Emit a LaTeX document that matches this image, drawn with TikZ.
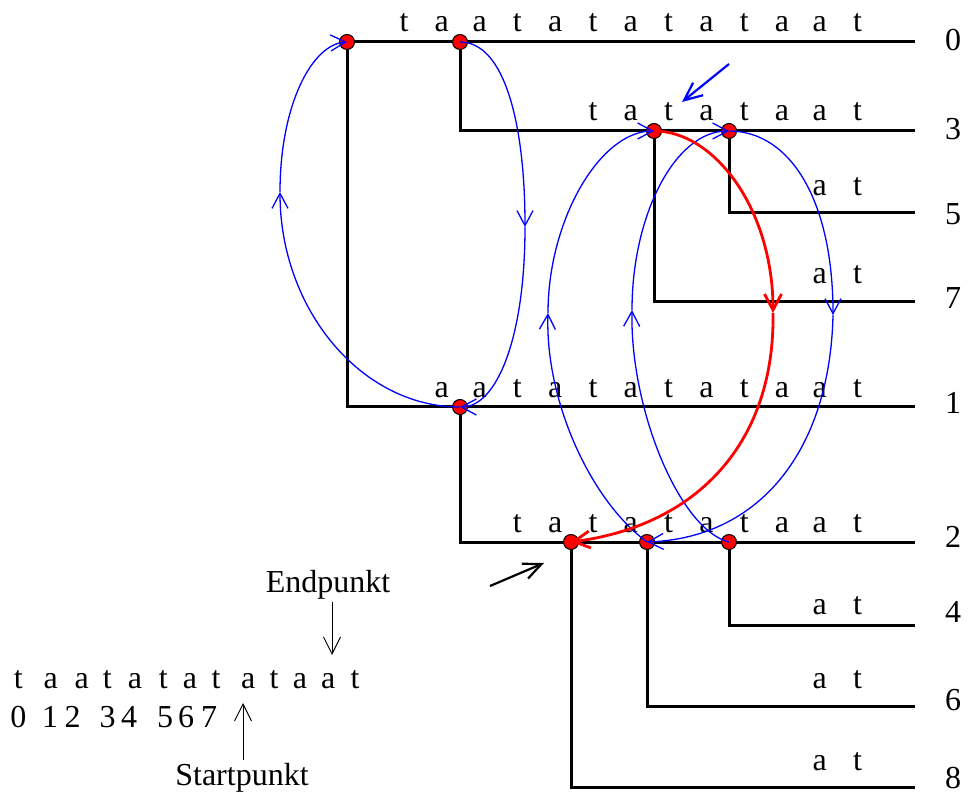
\documentclass[tikz,border=0pt]{standalone}
\usepackage{fontspec}
\setmainfont{Liberation Serif}
\usetikzlibrary{arrows.meta}
\begin{document}
\begin{tikzpicture}[x=0.5pt,y=-0.5pt,
  every node/.style={font=\fontsize{16}{19}\selectfont, inner sep=0pt},
  letter/.style={anchor=base},
  lbl/.style={anchor=center},
  tree/.style={line width=1.5pt, black},
  dot/.style={circle, fill=red, draw=black, line width=0.5pt, minimum size=7.5pt, inner sep=0pt},
  link/.style={blue, line width=0.65pt, -{Straight Barb[length=7.5pt,width=8pt]}},
  redlink/.style={red, line width=1.4pt, -{Straight Barb[length=8pt,width=8.5pt]}},
  bigarrow/.style={line width=1.1pt, -{Straight Barb[length=9pt,width=8pt]}},
  ptr/.style={line width=0.5pt, -{Straight Barb[length=8.5pt,width=8.5pt]}}
]
\useasboundingbox (0,0) rectangle (968,801);

% positions of branching points
\coordinate (p0a) at (347,42);
\coordinate (p0b) at (460,42);
\coordinate (p3a) at (654,131);
\coordinate (p3b) at (729,131);
\coordinate (p1a) at (460,407);
\coordinate (p2a) at (571,542);
\coordinate (p2b) at (647,542);
\coordinate (p2c) at (729,542);

% right ends of the leaves
\coordinate (e0) at (915,42);
\coordinate (e3) at (915,131);
\coordinate (e5) at (915,213);
\coordinate (e7) at (915,302);
\coordinate (e1) at (915,407);
\coordinate (e2) at (915,542);
\coordinate (e4) at (915,625);
\coordinate (e6) at (915,706);
\coordinate (e8) at (915,787);

% tree edges
\draw[tree] (p0a) -- (e0);
\draw[tree] (p0a) |- (e1);
\draw[tree] (p0b) |- (e3);
\draw[tree] (p3a) |- (e7);
\draw[tree] (p3b) |- (e5);
\draw[tree] (p1a) |- (e2);
\draw[tree] (p2a) |- (e8);
\draw[tree] (p2b) |- (e6);
\draw[tree] (p2c) |- (e4);

% leaf labels
\node[lbl] (l0) at (953,40) {0};
\node[lbl] (l3) at (953,129) {3};
\node[lbl] (l5) at (953,214) {5};
\node[lbl] (l7) at (953,298) {7};
\node[lbl] (l1) at (953,403) {1};
\node[lbl] (l2) at (953,537) {2};
\node[lbl] (l4) at (953,612) {4};
\node[lbl] (l6) at (953,700) {6};
\node[lbl] (l8) at (953,778) {8};

% edge letters
\foreach \row/\start/\base in {0/0/32, 3/5/121, 5/11/196, 7/11/284, 1/1/398, 2/3/532, 4/11/614, 6/11/688, 8/11/770} {
  \foreach \c [count=\k from 0] in {t,a,a,t,a,t,a,t,a,t,a,a,t} {
    \ifnum\k<\start\relax\else
      \node[letter] (r\row-\k) at ({404+37.8*\k},\base) {\c};
    \fi
  }
}

% dots
\node[dot] (n0a) at (p0a) {};
\node[dot] (n0b) at (p0b) {};
\node[dot] (n3a) at (p3a) {};
\node[dot] (n3b) at (p3b) {};
\node[dot] (n1a) at (p1a) {};
\node[dot] (n2a) at (p2a) {};
\node[dot] (n2b) at (p2b) {};
\node[dot] (n2c) at (p2c) {};

% suffix links (blue)
\coordinate (mL) at (280,192);
\draw[link] (n1a.center) .. controls (361,407) and (280,309) .. (mL);
\draw[link] (mL) .. controls (280,105) and (312,44) .. (n0a.center);

\coordinate (mR) at (525,227);
\draw[link] (n0b.center) .. controls (505,42) and (525,125) .. (mR);
\draw[link] (mR) .. controls (525,340) and (496,407) .. (n1a.center);

\coordinate (mA) at (548,313);
\draw[link] (n2b.center) .. controls (590,500) and (545,400) .. (mA);
\draw[link] (mA) .. controls (548,220) and (600,131) .. (n3a.center);

\coordinate (mB) at (632,310);
\draw[link] (n2c.center) .. controls (680,530) and (630,410) .. (mB);
\draw[link] (mB) .. controls (632,215) and (675,131) .. (n3b.center);

\coordinate (mC) at (833,315);
\draw[link] (n3b.center) .. controls (790,131) and (833,200) .. (mC);
\draw[link] (mC) .. controls (830,450) and (760,538) .. (n2b.center);

% red link
\coordinate (mRed) at (773,313);
\draw[redlink] (n3a.center) .. controls (715,131) and (773,210) .. (mRed);
\draw[redlink] (mRed) .. controls (775,440) and (700,525) .. (n2a.center);

% pointer arrows
\coordinate (ba1) at (729,64);
\coordinate (ba2) at (682,102);
\draw[bigarrow, blue] (ba1) -- (ba2);
\coordinate (ka1) at (490,586);
\coordinate (ka2) at (544,563);
\draw[bigarrow, black] (ka1) -- (ka2);

% bottom-left string
\foreach \c/\x [count=\i from 0] in {t/18.3, a/50.7, a/81.7, t/107.3, a/135, t/163.3, a/190, t/216, a/248.3, t/274, a/300, a/328.3, t/355} {
  \node[letter] (s\i) at (\x,688) {\c};
}
\foreach \d/\x in {0/18.3, 1/50, 2/72.5, 3/107.5, 4/129, 5/165, 6/186, 7/209} {
  \node[letter] (d\d) at (\x,727) {\d};
}
\node[letter] (endp) at (328,592) {Endpunkt};
\node[letter] (startp) at (242,785) {Startpunkt};
\coordinate (pe1) at (332,602);
\coordinate (pe2) at (332,655);
\draw[ptr] (pe1) -- (pe2);
\coordinate (ps1) at (243,760);
\coordinate (ps2) at (243,703);
\draw[ptr] (ps1) -- (ps2);
\end{tikzpicture}
\end{document}
